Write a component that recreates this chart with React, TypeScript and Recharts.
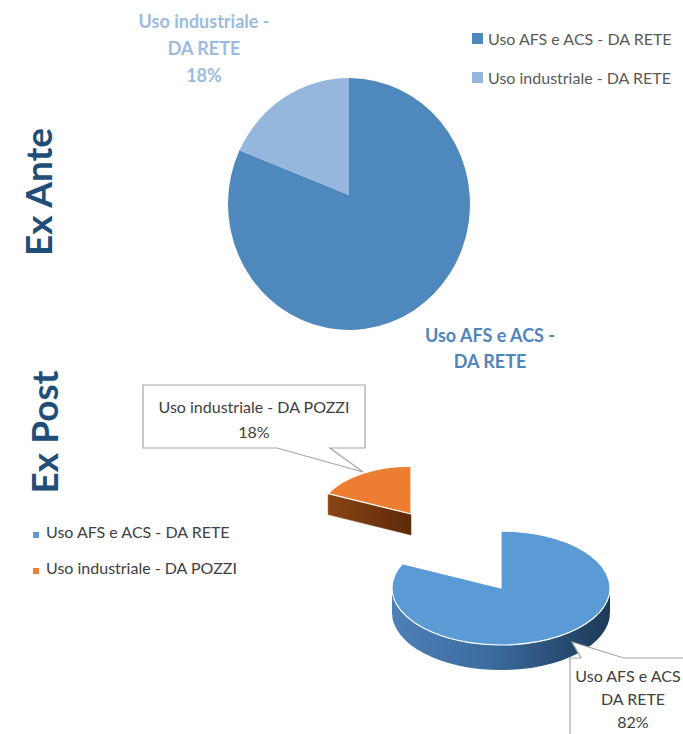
import React from 'react';
import { PieChart, Pie, Cell } from 'recharts';

const exAnteNames = ['Uso AFS e ACS - DA RETE', 'Uso industriale - DA RETE'];
const exAnteValues = [82, 18];
const exPostNames = ['Uso AFS e ACS - DA RETE', 'Uso industriale - DA POZZI'];
const exPostValues = [82, 18];

const exAnteColors = ['#4f88bd', '#95b7de'];
const exAnteLabelColors = ['#4f85be', '#9dbbe0'];
const exPostColors = ['#5b9bd5', '#ed7d31'];
const exPostSides = ['url(#blueSide)', 'url(#orangeSide)'];

const exAnteData = exAnteNames.map((name, i) => ({ name, value: exAnteValues[i] }));
const exPostData = exPostNames.map((name, i) => ({ name, value: exPostValues[i] }));

const FONT = 'Lato, "Open Sans", sans-serif';
const W = 683;
const H = 734;

const rad = (d: number) => (d * Math.PI) / 180;
const pct = (p: number) => `${Math.round(p * 100)}%`;
const splitName = (n: string) => {
  const i = n.indexOf(' - ');
  return i < 0 ? [n] : [n.slice(0, i) + ' -', n.slice(i + 3)];
};

type Explode = { dx: number; dy: number; scale: number };

// sector drawn as a tilted (optionally extruded) ellipse slice
const makeSlice = (opts: {
  tilt: number;
  depth: number;
  apexDy?: number;
  edge?: string;
  sides?: string[];
  names: string[];
  explode?: Record<string, Explode>;
}) => (props: any) => {
  const name = props.name ?? props.payload?.name;
  const idx = opts.names.indexOf(name);
  const ex = opts.explode?.[name];
  const k = ex ? ex.scale : 1;
  const cx = props.cx + (ex ? ex.dx : 0);
  const cy = props.cy + (ex ? ex.dy : 0);
  const rx = props.outerRadius * k;
  const ry = rx * opts.tilt;
  const d = opts.depth * k;
  const ax = cx;
  const ay = cy + (opts.apexDy ?? 0) * k;
  const s = props.startAngle;
  const e = props.endAngle;
  const pt = (a: number) => [cx + rx * Math.cos(rad(a)), cy - ry * Math.sin(rad(a))];
  const large = Math.abs(e - s) > 180 ? 1 : 0;
  const sweep = e < s ? 1 : 0;
  const [sx, sy] = pt(s);
  const [ex2, ey] = pt(e);
  const top = `M${ax},${ay} L${sx},${sy} A${rx},${ry} 0 ${large} ${sweep} ${ex2},${ey} Z`;
  const side = opts.sides ? opts.sides[idx] : props.fill;
  const parts: React.ReactNode[] = [];
  if (d > 0) {
    const faces: [number, number][] = [
      [s, e < s ? s + 90 : s - 90],
      [e, e < s ? e - 90 : e + 90],
    ];
    faces.forEach(([a, n], j) => {
      if (Math.sin(rad(n)) < -0.05) {
        const [px, py] = pt(a);
        parts.push(
          <path key={`f${j}`} d={`M${ax},${ay} L${px},${py} L${px},${py + d} L${ax},${ay + d} Z`} fill={side} stroke={side} strokeWidth={0.5} />
        );
      }
    });
    const lo = Math.min(s, e);
    const hi = Math.max(s, e);
    for (let m = -2; m <= 2; m++) {
      const a = Math.max(lo, -180 + 360 * m);
      const b = Math.min(hi, 360 * m);
      if (b > a) {
        const [p1x, p1y] = pt(a);
        const [p2x, p2y] = pt(b);
        parts.push(
          <path
            key={`w${m}`}
            d={`M${p1x},${p1y} A${rx},${ry} 0 0 0 ${p2x},${p2y} L${p2x},${p2y + d} A${rx},${ry} 0 0 1 ${p1x},${p1y + d} Z`}
            fill={side}
          />
        );
      }
    }
  }
  return (
    <g>
      {parts}
      <path d={top} fill={props.fill} stroke={opts.edge ?? 'none'} strokeWidth={opts.edge ? 1.2 : 0} />
    </g>
  );
};

const anteSlice = makeSlice({ tilt: 126 / 121, depth: 0, apexDy: -9, names: exAnteNames });
const postSlice = makeSlice({
  tilt: 57 / 109,
  depth: 25,
  edge: '#ffffff',
  sides: exPostSides,
  names: exPostNames,
  explode: { 'Uso industriale - DA POZZI': { dx: -90, dy: -74, scale: 0.84 } },
});

const anteLabelPos = [
  { x: 490, y: 342, step: 26, showPct: false },
  { x: 204, y: 28, step: 27, showPct: true },
];

const renderAnteLabel = (props: any) => {
  const i = props.index ?? exAnteNames.indexOf(props.name);
  const p = anteLabelPos[i];
  const lines = splitName(exAnteNames[i]);
  if (p.showPct) lines.push(pct(props.percent));
  return (
    <text textAnchor="middle" fontFamily={FONT} fontWeight={700} fontSize={18} fill={exAnteLabelColors[i]}>
      {lines.map((l, j) => (
        <tspan key={j} x={p.x} y={p.y + j * p.step}>
          {l}
        </tspan>
      ))}
    </text>
  );
};

const postCallouts = [
  {
    box: 'M570,658 H581 L572,642 L624,658 H700 V760 H570 Z',
    x: 633,
    y: 682,
    step: 23,
    split: true,
  },
  {
    box: 'M143,385 H365 V448 H330 L363,472 L277,448 H143 Z',
    x: 254,
    y: 413,
    step: 25,
    split: false,
  },
];

const renderPostLabel = (props: any) => {
  const i = props.index ?? exPostNames.indexOf(props.name);
  const c = postCallouts[i];
  const lines = c.split ? splitName(exPostNames[i]) : [exPostNames[i]];
  lines.push(pct(props.percent));
  return (
    <g>
      <path d={c.box} fill="#ffffff" stroke="#a6a6a6" strokeWidth={1.2} />
      <text textAnchor="middle" fontFamily={FONT} fontSize={16} fill="#404040">
        {lines.map((l, j) => (
          <tspan key={j} x={c.x} y={c.y + j * c.step}>
            {l}
          </tspan>
        ))}
      </text>
    </g>
  );
};

const layer: React.CSSProperties = { position: 'absolute', left: 0, top: 0 };

export default function App() {
  const anteProps: any = { shape: anteSlice, activeShape: anteSlice, inactiveShape: anteSlice };
  const postProps: any = { shape: postSlice, activeShape: postSlice, inactiveShape: postSlice };
  return (
    <div style={{ position: 'absolute', left: 0, top: 0, width: W, height: H, background: '#fff', overflow: 'hidden' }}>
      <div style={layer}>
        <PieChart width={W} height={H} margin={{ top: 0, right: 0, bottom: 0, left: 0 }}>
          <Pie
            data={exAnteData}
            dataKey="value"
            nameKey="name"
            cx={349}
            cy={204}
            outerRadius={121}
            startAngle={90}
            endAngle={-270}
            stroke="none"
            label={renderAnteLabel}
            labelLine={false}
            {...anteProps}
            isAnimationActive={false}
          >
            {exAnteData.map((d, i) => (
              <Cell key={d.name} fill={exAnteColors[i]} />
            ))}
          </Pie>
        </PieChart>
      </div>
      <div style={layer}>
        <PieChart width={W} height={H} margin={{ top: 0, right: 0, bottom: 0, left: 0 }}>
          <defs>
            <linearGradient id="blueSide" x1="0" y1="0" x2="1" y2="0">
              <stop offset="0%" stopColor="#4d80b8" />
              <stop offset="45%" stopColor="#3c6c9f" />
              <stop offset="80%" stopColor="#264a70" />
              <stop offset="100%" stopColor="#1d3a58" />
            </linearGradient>
            <linearGradient id="orangeSide" x1="0" y1="0" x2="1" y2="0">
              <stop offset="0%" stopColor="#8a4414" />
              <stop offset="100%" stopColor="#5c2a0a" />
            </linearGradient>
          </defs>
          <Pie
            data={exPostData}
            dataKey="value"
            nameKey="name"
            cx={501}
            cy={588}
            outerRadius={109}
            startAngle={90}
            endAngle={-270}
            stroke="none"
            label={renderPostLabel}
            labelLine={false}
            {...postProps}
            isAnimationActive={false}
          >
            {exPostData.map((d, i) => (
              <Cell key={d.name} fill={exPostColors[i]} />
            ))}
          </Pie>
        </PieChart>
      </div>
      <svg width={W} height={H} style={{ ...layer, pointerEvents: 'none' }}>
        <text transform="translate(52,192) rotate(-90)" textAnchor="middle" fontFamily={FONT} fontWeight={700} fontSize={37} fill="#1f4e79">
          Ex Ante
        </text>
        <text transform="translate(58,432) rotate(-90)" textAnchor="middle" fontFamily={FONT} fontWeight={700} fontSize={37} fill="#1f4e79">
          Ex Post
        </text>
        {exAnteNames.map((n, i) => (
          <g key={n}>
            <rect x={472} y={33 + i * 39} width={11} height={11} fill={exAnteColors[i]} />
            <text x={488} y={45 + i * 39} fontFamily={FONT} fontSize={16} fill="#595959">
              {n}
            </text>
          </g>
        ))}
        {exPostNames.map((n, i) => (
          <g key={n}>
            <rect x={33} y={532 + i * 36} width={6} height={6} fill={exPostColors[i]} />
            <text x={46} y={538 + i * 36} fontFamily={FONT} fontSize={16} fill="#404040">
              {n}
            </text>
          </g>
        ))}
      </svg>
    </div>
  );
}
